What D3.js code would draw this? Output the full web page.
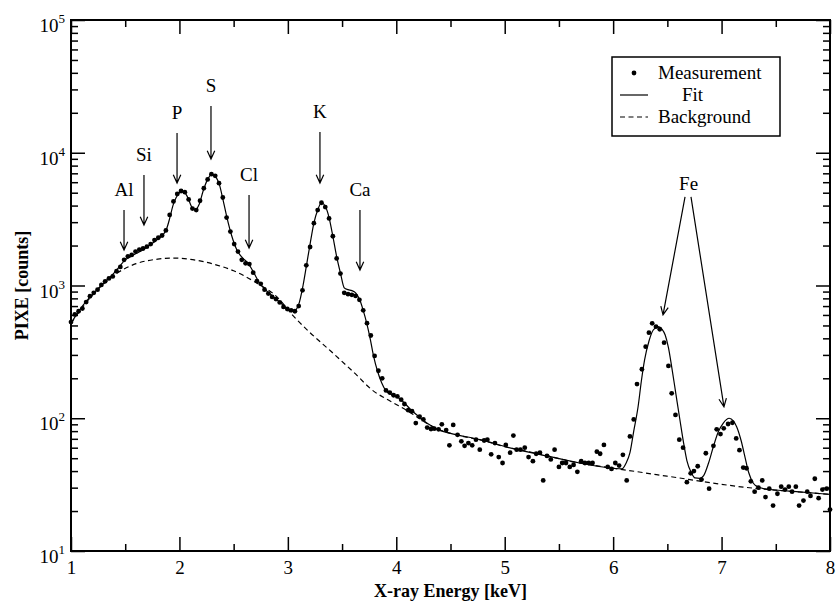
<!DOCTYPE html>
<html>
<head>
<meta charset="utf-8">
<script src="https://cdn.jsdelivr.net/npm/d3@7"></script>
<style>
  body { margin: 0; background: #fff; }
</style>
</head>
<body>
<div id="graph"></div>
<script>
// measured spectrum [keV, counts]
const measurement = [
  [1.000,530],[1.035,605],[1.070,640],[1.105,670],[1.140,750],[1.175,830],[1.210,880],[1.245,930],
  [1.280,1010],[1.315,1075],[1.350,1130],[1.385,1170],[1.420,1280],[1.455,1380],[1.490,1560],[1.525,1660],
  [1.560,1700],[1.595,1800],[1.630,1860],[1.665,1900],[1.700,1960],[1.735,2050],[1.770,2200],[1.805,2290],
  [1.840,2380],[1.875,2600],[1.910,3400],[1.945,4300],[1.980,4900],[2.015,5150],[2.050,5050],[2.085,4450],
  [2.120,3800],[2.155,3700],[2.190,4350],[2.225,5400],[2.260,6300],[2.295,6900],[2.330,6700],[2.365,5900],
  [2.400,4600],[2.435,3250],[2.470,2550],[2.505,2050],[2.540,1800],[2.575,1560],[2.610,1470],[2.645,1450],
  [2.680,1250],[2.715,1080],[2.750,1030],[2.785,930],[2.820,870],[2.855,820],[2.890,790],[2.925,745],
  [2.960,690],[2.995,665],[3.030,650],[3.065,640],[3.100,700],[3.135,920],[3.170,1420],[3.205,1950],
  [3.240,2950],[3.275,3700],[3.310,4200],[3.345,3900],[3.380,3200],[3.415,2350],[3.450,1600],[3.485,1230],
  [3.520,880],[3.555,860],[3.590,850],[3.625,835],[3.660,780],[3.695,650],[3.730,520],[3.765,420],
  [3.800,295],[3.835,228],[3.870,200],[3.905,162],[3.940,156],[3.975,149],[4.010,146],[4.045,138],
  [4.075,128],[4.110,115],[4.145,113],[4.180,92],[4.215,103],[4.250,98],[4.285,85],[4.320,83],
  [4.350,83.5],[4.390,82.5],[4.420,90],[4.460,81.5],[4.490,62.5],[4.525,89],[4.565,75],[4.600,67],
  [4.630,62],[4.665,65],[4.700,62.5],[4.735,69],[4.770,58],[4.810,68],[4.840,69],[4.875,53.5],
  [4.910,65],[4.945,51],[4.980,46],[5.010,63],[5.050,55],[5.080,74],[5.110,58],[5.145,58],
  [5.185,60],[5.220,51],[5.260,47.5],[5.290,54],[5.325,55],[5.355,34],[5.390,52],[5.425,49],
  [5.460,58],[5.500,43],[5.530,46],[5.565,46],[5.600,43],[5.635,44.5],[5.670,39.5],[5.705,47.5],
  [5.740,46],[5.775,46],[5.810,46],[5.850,56],[5.880,54],[5.915,63],[5.950,43],[5.985,41.5],
  [6.020,46],[6.055,44],[6.090,53],[6.125,34],[6.155,73],[6.190,98],[6.220,181],[6.265,234],
  [6.300,346],[6.330,441],[6.360,519],[6.395,490],[6.430,468],[6.470,371],[6.510,248],[6.540,154],
  [6.575,106],[6.610,69],[6.645,60],[6.680,33],[6.715,38.5],[6.745,40],[6.780,43.5],[6.815,34.5],
  [6.855,54.5],[6.885,29.5],[6.925,62],[6.955,82.5],[6.990,76],[7.020,84],[7.060,90.5],[7.100,92.5],
  [7.135,70.5],[7.165,57.5],[7.200,42.5],[7.230,42],[7.270,33.5],[7.305,28],[7.340,30],[7.375,34],
  [7.405,25.5],[7.440,29.5],[7.475,22],[7.515,27],[7.550,30.5],[7.585,29],[7.620,30.5],[7.650,28],
  [7.685,30.5],[7.715,22],[7.755,24],[7.790,28],[7.820,26],[7.860,35],[7.895,25],[7.930,29],
  [7.970,29.5],[8.000,20.5]
];

// fitted curve [keV, counts]
const fit = [
  [1.0,520],[1.1,690],[1.2,860],[1.3,1040],[1.4,1250],[1.45,1400],[1.5,1560],[1.55,1650],[1.6,1740],
  [1.65,1830],[1.7,1950],[1.75,2080],[1.8,2230],[1.85,2420],[1.88,2650],[1.91,3200],[1.94,4000],
  [1.97,4600],[2.0,5000],[2.025,5100],[2.05,5000],[2.08,4550],[2.11,3950],[2.145,3700],[2.18,4050],
  [2.22,5200],[2.26,6300],[2.3,6900],[2.34,6500],[2.37,5700],[2.4,4500],[2.44,3200],[2.48,2400],
  [2.53,1850],[2.58,1620],[2.635,1470],[2.69,1230],[2.74,1040],[2.8,920],[2.87,820],[2.94,730],
  [3.0,665],[3.06,650],[3.1,720],[3.14,1000],[3.175,1470],[3.205,2050],[3.24,2950],[3.275,3700],
  [3.31,4200],[3.345,3950],[3.38,3250],[3.415,2350],[3.45,1650],[3.485,1240],[3.52,960],[3.555,930],
  [3.59,915],[3.625,880],[3.66,790],[3.695,650],[3.73,510],[3.76,395],[3.79,295],[3.83,222],
  [3.865,185],[3.9,163],[3.96,150],[4.03,141],[4.13,117],[4.22,101],[4.3,90],[4.4,81],[4.5,77],
  [4.77,69],[5.08,59],[5.39,52],[5.69,46],[6.0,42],[6.08,41.5],[6.12,46],[6.155,55],[6.19,80],
  [6.23,122],[6.26,190],[6.29,275],[6.33,380],[6.37,462],[6.415,490],[6.45,470],[6.48,424],
  [6.51,340],[6.54,244],[6.58,150],[6.616,97],[6.65,65],[6.68,48],[6.72,39],[6.755,35.5],[6.8,35.3],
  [6.835,37],[6.88,46],[6.924,61],[6.97,79],[7.016,92],[7.07,100],[7.11,95],[7.14,86],[7.18,68],
  [7.216,51],[7.25,39],[7.293,32.4],[7.34,30.3],[7.4,29.4],[7.5,28.8],[7.69,28],[8.0,26.7]
];

// background curve [keV, counts]
const background = [
  [1.0,520],[1.2,850],[1.4,1200],[1.6,1460],[1.8,1580],[1.95,1610],[2.1,1575],[2.3,1460],[2.5,1290],
  [2.7,1060],[2.9,820],[3.05,590],[3.2,445],[3.4,318],[3.6,225],[3.8,158],[3.9,141],[4.0,127],
  [4.1,114],[4.2,101],[4.3,90],[4.4,82],[4.5,77],[4.6,73.5],[4.8,68],[5.0,61],[5.2,56.5],[5.4,52],
  [5.6,47.5],[5.8,44.5],[6.0,42],[6.2,39.8],[6.4,37.6],[6.6,35.6],[6.8,33.6],[7.0,31.8],[7.2,30.3],
  [7.4,29.2],[7.6,28.3],[7.8,27.5],[8.0,26.7]
];

const xMajor = [1, 2, 3, 4, 5, 6, 7, 8];
const xMinor = [1.5, 2.5, 3.5, 4.5, 5.5, 6.5, 7.5];
const yExponents = [1, 2, 3, 4, 5];

// element line annotations: energy [keV], arrow start and tip [counts]
const elementNames = ["Al", "Si", "P", "S", "Cl", "K", "Ca"];
const elementEnergy = [1.489, 1.673, 1.978, 2.291, 2.642, 3.296, 3.665];
const arrowStart = [3705, 6800, 14090, 22500, 4805, 14330, 3705];
const arrowTip = [1850, 2857, 5920, 8970, 1915, 5920, 1309];

// Fe: label plus two arrows [keV, counts] -> [keV, counts]
const feLabel = [6.696, 4645];
const feArrows = [
  [[6.663, 4645], [6.46, 600]],
  [[6.718, 4645], [7.022, 122]]
];

const legendNames = ["Measurement", "Fit", "Background"];

const width = 836;
const height = 605;
const margin = {top: 20, right: 6, bottom: 54, left: 71};
const font = "'Liberation Serif', 'Times New Roman', serif";

let x = d3.scaleLinear()
  .domain([1, 8])
  .range([margin.left, width - margin.right]);
let y = d3.scaleLog()
  .domain([10, 1e5])
  .range([height - margin.bottom, margin.top]);

let svg = d3.select("#graph")
  .append("svg")
  .attr("width", width)
  .attr("height", height)
  .attr("font-family", font);

const yMinor = [];
yExponents.slice(0, -1).forEach(e => {
  for (let k = 2; k <= 9; k++) yMinor.push(k * Math.pow(10, e));
});
const yMajor = yExponents.map(e => Math.pow(10, e));

const tickStyle = g => g
  .call(g => g.select(".domain").remove())
  .call(g => g.selectAll(".tick line").attr("stroke-width", 1.5));

// bottom
svg.append("g")
  .attr("transform", `translate(0,${height - margin.bottom})`)
  .call(d3.axisBottom(x).tickValues(xMajor).tickSize(-14).tickPadding(10).tickFormat(d3.format("d")))
  .call(tickStyle)
  .call(g => g.selectAll("text").attr("font-size", 19).attr("font-family", font).attr("fill", "#000"));
svg.append("g")
  .attr("transform", `translate(0,${height - margin.bottom})`)
  .call(d3.axisBottom(x).tickValues(xMinor).tickSize(-7).tickFormat(""))
  .call(tickStyle);
// top
svg.append("g")
  .attr("transform", `translate(0,${margin.top})`)
  .call(d3.axisTop(x).tickValues(xMajor).tickSize(-14).tickFormat(""))
  .call(tickStyle);
svg.append("g")
  .attr("transform", `translate(0,${margin.top})`)
  .call(d3.axisTop(x).tickValues(xMinor).tickSize(-7).tickFormat(""))
  .call(tickStyle);
// left
svg.append("g")
  .attr("transform", `translate(${margin.left},0)`)
  .call(d3.axisLeft(y).tickValues(yMajor).tickSize(-14).tickFormat(""))
  .call(tickStyle);
svg.append("g")
  .attr("transform", `translate(${margin.left},0)`)
  .call(d3.axisLeft(y).tickValues(yMinor).tickSize(-7).tickFormat(""))
  .call(tickStyle);
// right
svg.append("g")
  .attr("transform", `translate(${width - margin.right},0)`)
  .call(d3.axisRight(y).tickValues(yMajor).tickSize(-14).tickFormat(""))
  .call(tickStyle);
svg.append("g")
  .attr("transform", `translate(${width - margin.right},0)`)
  .call(d3.axisRight(y).tickValues(yMinor).tickSize(-7).tickFormat(""))
  .call(tickStyle);

// y labels 10^n
let yLab = svg.append("g")
  .selectAll("text")
  .data(yExponents)
  .join("text")
  .attr("x", margin.left - 6)
  .attr("y", d => y(Math.pow(10, d)) + 12)
  .attr("text-anchor", "end")
  .attr("font-size", 19);
yLab.append("tspan").text("10");
yLab.append("tspan")
  .attr("font-size", 13)
  .attr("dy", -9)
  .text(d => d);

// frame
svg.append("rect")
  .attr("x", margin.left)
  .attr("y", margin.top)
  .attr("width", width - margin.left - margin.right)
  .attr("height", height - margin.top - margin.bottom)
  .attr("fill", "none")
  .attr("stroke", "#000")
  .attr("stroke-width", 2);

// curves
let line = d3.line()
  .x(d => x(d[0]))
  .y(d => y(d[1]))
  .curve(d3.curveMonotoneX);

svg.append("path")
  .datum(background)
  .attr("fill", "none")
  .attr("stroke", "#000")
  .attr("stroke-width", 1.2)
  .attr("stroke-dasharray", "5,3.5")
  .attr("d", line);

svg.append("path")
  .datum(fit)
  .attr("fill", "none")
  .attr("stroke", "#000")
  .attr("stroke-width", 1.2)
  .attr("stroke-linejoin", "round")
  .attr("d", line);

svg.append("g")
  .selectAll("circle")
  .data(measurement)
  .join("circle")
  .attr("cx", d => x(d[0]))
  .attr("cy", d => y(d[1]))
  .attr("r", 2.4)
  .attr("fill", "#000");

// arrows
function arrowPath(x1, y1, x2, y2) {
  const a = Math.atan2(y2 - y1, x2 - x1);
  const L = 9, w = 0.43;
  return `M${x1},${y1}L${x2},${y2}` +
    `M${x2 - L * Math.cos(a - w)},${y2 - L * Math.sin(a - w)}L${x2},${y2}` +
    `L${x2 - L * Math.cos(a + w)},${y2 - L * Math.sin(a + w)}`;
}

let ann = svg.append("g");
elementNames.forEach((name, i) => {
  const ax = x(elementEnergy[i]);
  ann.append("path")
    .attr("d", arrowPath(ax, y(arrowStart[i]), ax, y(arrowTip[i])))
    .attr("fill", "none")
    .attr("stroke", "#000")
    .attr("stroke-width", 1.2);
  ann.append("text")
    .attr("x", ax)
    .attr("y", y(arrowStart[i]) - 14)
    .attr("text-anchor", "middle")
    .attr("font-size", 19)
    .text(name);
});
feArrows.forEach(a => {
  ann.append("path")
    .attr("d", arrowPath(x(a[0][0]), y(a[0][1]), x(a[1][0]), y(a[1][1])))
    .attr("fill", "none")
    .attr("stroke", "#000")
    .attr("stroke-width", 1.2);
});
ann.append("text")
  .attr("x", x(feLabel[0]))
  .attr("y", y(feLabel[1]) - 7)
  .attr("text-anchor", "middle")
  .attr("font-size", 19)
  .text("Fe");

// legend
let legend = svg.append("g").attr("transform", "translate(612,57)");
legend.append("rect")
  .attr("width", 168)
  .attr("height", 79)
  .attr("fill", "#fff")
  .attr("stroke", "#000")
  .attr("stroke-width", 1.5);
legend.append("circle").attr("cx", 22).attr("cy", 16).attr("r", 2.4).attr("fill", "#000");
legend.append("line").attr("x1", 8).attr("x2", 36).attr("y1", 38).attr("y2", 38)
  .attr("stroke", "#000").attr("stroke-width", 1.2);
legend.append("line").attr("x1", 8).attr("x2", 36).attr("y1", 60).attr("y2", 60)
  .attr("stroke", "#000").attr("stroke-width", 1.2).attr("stroke-dasharray", "5,3.5");
legend.selectAll("text")
  .data(legendNames)
  .join("text")
  .attr("x", (d, i) => i === 1 ? 70 : 46)
  .attr("y", (d, i) => 22 + i * 22)
  .attr("font-size", 19)
  .text(d => d);

// axis titles
svg.append("text")
  .attr("x", (margin.left + width - margin.right) / 2)
  .attr("y", 597)
  .attr("text-anchor", "middle")
  .attr("font-size", 18)
  .attr("font-weight", "bold")
  .text("X-ray Energy [keV]");

svg.append("text")
  .attr("transform", `translate(28,${(margin.top + height - margin.bottom) / 2})rotate(-90)`)
  .attr("text-anchor", "middle")
  .attr("font-size", 18)
  .attr("font-weight", "bold")
  .text("PIXE [counts]");
</script>
</body>
</html>
